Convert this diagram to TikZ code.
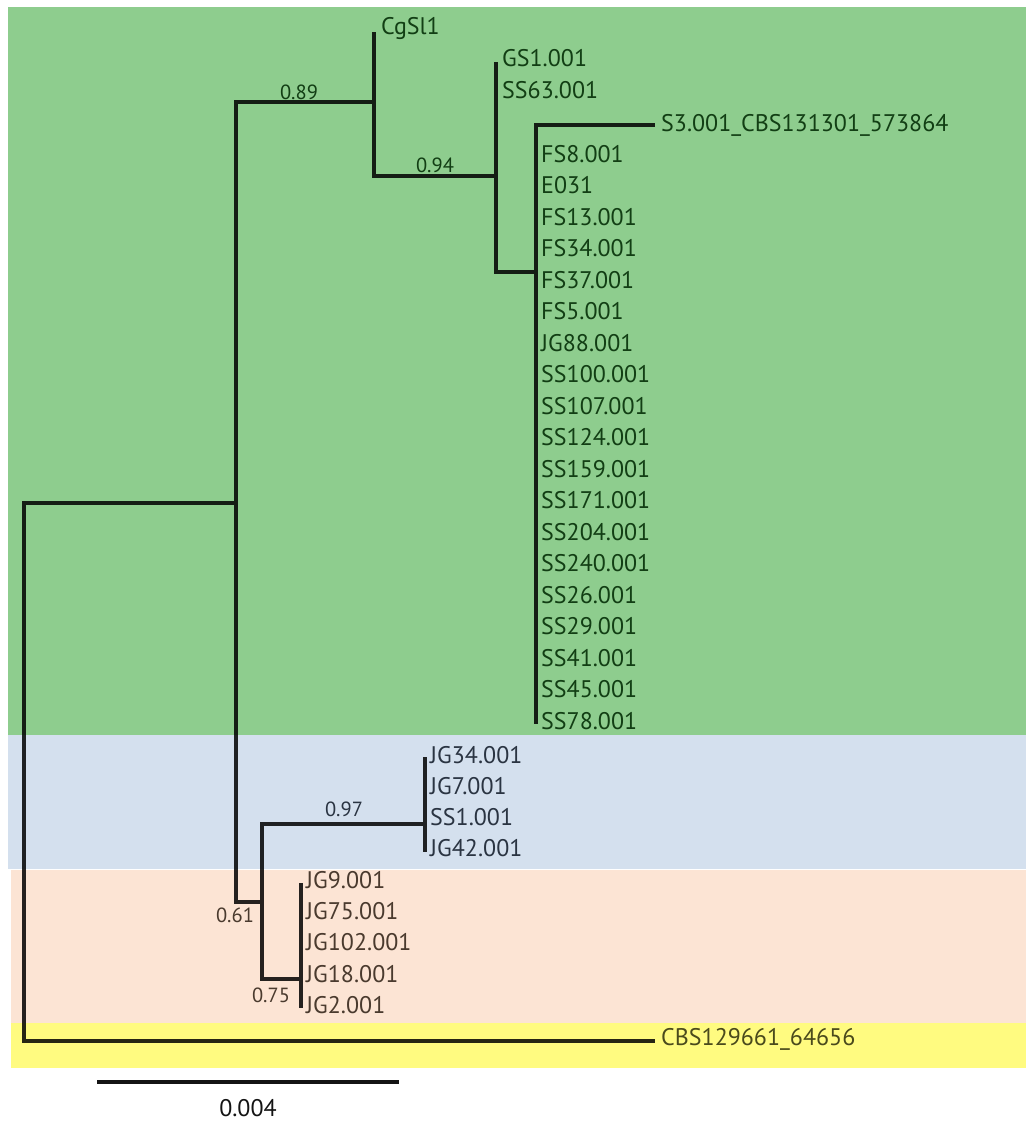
\documentclass[tikz,border=0pt]{standalone}
\usepackage{fontspec}
\setmainfont{PT Sans}
\definecolor{cladeGreen}{RGB}{142,205,142}
\definecolor{cladeBlue}{RGB}{212,224,238}
\definecolor{cladePeach}{RGB}{252,228,212}
\definecolor{cladeYellow}{RGB}{255,251,128}
\definecolor{inkGreen}{RGB}{18,62,20}
\definecolor{inkBlue}{RGB}{42,52,66}
\definecolor{inkPeach}{RGB}{74,58,46}
\definecolor{inkYellow}{RGB}{74,74,28}
\begin{document}
\begin{tikzpicture}[x=1pt,y=-1pt,
  branch/.style={line width=3.3pt, draw=black, draw opacity=0.85},
  leaf/.style={anchor=west, inner sep=0pt, font=\fontsize{24}{26}\selectfont},
  support/.style={inner sep=0pt, font=\fontsize{20.5}{22}\selectfont},
  scalebar/.style={line width=3.3pt, draw={rgb,255:red,20;green,20;blue,20}},
]
\useasboundingbox (0,0) rectangle (1026,1122);
\fill[white] (0,0) rectangle (1026,1122);

% clade bands
\fill[cladeGreen]  (8,7)     rectangle (1026,735);
\fill[cladeBlue]   (8,735)   rectangle (1026,869);
\fill[cladePeach]  (11,870)  rectangle (1026,1023);
\fill[cladeYellow] (11,1023) rectangle (1026,1068);

% internal nodes
\coordinate (root) at (24,775);
\coordinate (nA) at (236,503);
\coordinate (nB) at (374,102);
\coordinate (nC) at (496,176);
\coordinate (nD) at (536,272);
\coordinate (nE) at (262,902);
\coordinate (nG) at (425,824);
\coordinate (nF) at (301,979);

% leaf ends
\coordinate (lCgSl1) at (374,32);
\coordinate (lGS1) at (496,62);
\coordinate (lS3) at (655,125);
\coordinate (lSS78) at (536,724);
\coordinate (lJG34) at (425,757);
\coordinate (lJG42) at (425,852);
\coordinate (lJG9) at (301,883);
\coordinate (lJG2) at (301,1008);
\coordinate (lCBS) at (655,1041);

% branches
\draw[branch]
  (root) |- (nA)  (root) |- (lCBS)
  (nA) |- (nB)    (nA) |- (nE)
  (nB) |- (lCgSl1) (nB) |- (nC)
  (nC) |- (lGS1)  (nC) |- (nD)
  (nD) |- (lS3)   (nD) |- (lSS78)
  (nE) |- (nG)    (nE) |- (nF)
  (nG) |- (lJG34) (nG) |- (lJG42)
  (nF) |- (lJG9)  (nF) |- (lJG2);

% leaf labels, green clade
\node[leaf, text=inkGreen] (tCgSl1) at (381,28) {CgSl1};
\node[leaf, text=inkGreen] (tGS1) at (502,58) {GS1.001};
\node[leaf, text=inkGreen] (tSS63) at (502,90) {SS63.001};
\node[leaf, text=inkGreen] (tS3) at (661,125) {S3.001\_CBS131301\_573864};
\foreach \name [count=\i from 0] in {FS8.001, E031, FS13.001, FS34.001,
    FS37.001, FS5.001, JG88.001, SS100.001, SS107.001, SS124.001,
    SS159.001, SS171.001, SS204.001, SS240.001, SS26.001, SS29.001,
    SS41.001, SS45.001, SS78.001}
  \node[leaf, text=inkGreen] (tD\i) at (541,{154+31.5*\i}) {\name};

% leaf labels, blue clade
\foreach \name [count=\i from 0] in {JG34.001, JG7.001, SS1.001, JG42.001}
  \node[leaf, text=inkBlue] (tG\i) at (430,{755+31*\i}) {\name};

% leaf labels, peach clade
\foreach \name [count=\i from 0] in {JG9.001, JG75.001, JG102.001, JG18.001, JG2.001}
  \node[leaf, text=inkPeach] (tF\i) at (306,{880+31.25*\i}) {\name};

% outgroup
\node[leaf, text=inkYellow] (tCBS) at (661,1039) {CBS129661\_64656};

% support values
\node[support, text=inkGreen] (s89) at (299,92) {0.89};
\node[support, text=inkGreen] (s94) at (435,165) {0.94};
\node[support, text=inkBlue] (s97) at (344,809) {0.97};
\node[support, text=inkPeach] (s61) at (235,915) {0.61};
\node[support, text=inkPeach] (s75) at (271,995) {0.75};

% scale bar
\coordinate (sb0) at (97,1082);
\coordinate (sb1) at (399,1082);
\draw[scalebar] (sb0) -- (sb1);
\node[inner sep=0pt, font=\fontsize{24}{26}\selectfont, text={rgb,255:red,20;green,20;blue,20}] (sbText) at (248,1108) {0.004};
\end{tikzpicture}
\end{document}
